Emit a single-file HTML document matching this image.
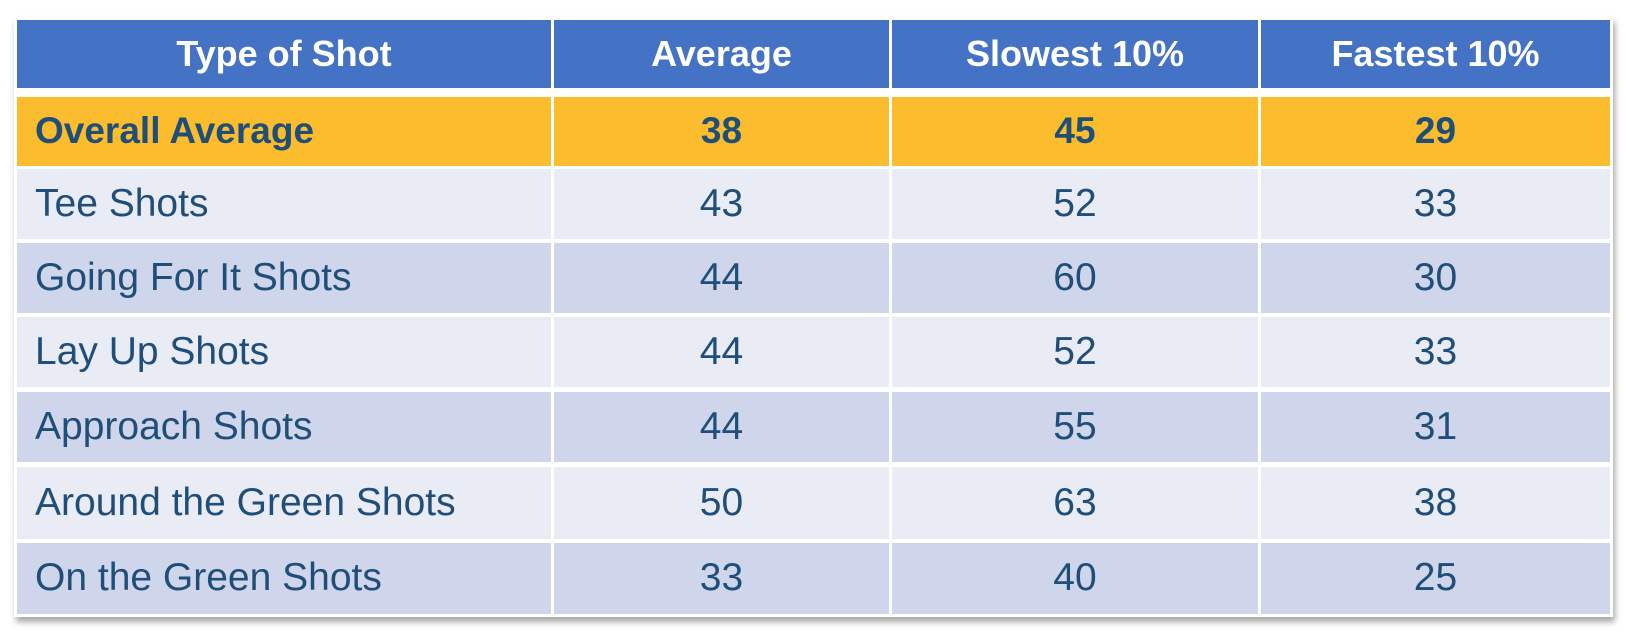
<!DOCTYPE html>
<html><head><meta charset="utf-8">
<style>
body{margin:0;width:1626px;height:634px;background:#fff;position:relative;overflow:hidden;font-family:"Liberation Sans",sans-serif;}
.wrap{position:absolute;left:14px;top:17px;width:1599px;height:600px;background:#fff;box-shadow:2px 5px 6px rgba(0,0,0,0.35);}
.c{position:absolute;box-sizing:border-box;display:flex;align-items:center;justify-content:center;color:#1F4E79;font-size:39px;padding-bottom:1px;}
.h{background:#4472C4;color:#fff;font-weight:bold;font-size:36px;padding-bottom:0;}
.o{background:#FBBC2D;font-weight:bold;font-size:37px;}
.l{background:#E9EBF5;}
.d{background:#CFD5EA;}
.left{justify-content:flex-start;padding-left:18px;}
</style></head><body>
<div class="wrap"></div>
<div id="t"></div>
<script>
var cols=[[17,551],[554,889],[892,1258],[1261,1610]];
var rows=[[20,88,'h',["Type of Shot","Average","Slowest 10%","Fastest 10%"]],
[97,166,'o',["Overall Average","38","45","29"]],
[169,239,'l',["Tee Shots","43","52","33"]],
[243,313,'d',["Going For It Shots","44","60","30"]],
[317,387,'l',["Lay Up Shots","44","52","33"]],
[392,462,'d',["Approach Shots","44","55","31"]],
[467,539,'l',["Around the Green Shots","50","63","38"]],
[543,614,'d',["On the Green Shots","33","40","25"]]];
var h='';
rows.forEach(function(r){cols.forEach(function(c,i){
var cls='c '+r[2]+((i==0&&r[2]!='h')?' left':'');
h+='<div class="'+cls+'" style="left:'+c[0]+'px;top:'+r[0]+'px;width:'+(c[1]-c[0])+'px;height:'+(r[1]-r[0])+'px">'+r[3][i]+'</div>';});});
document.getElementById('t').innerHTML=h;
</script>
</body></html>
